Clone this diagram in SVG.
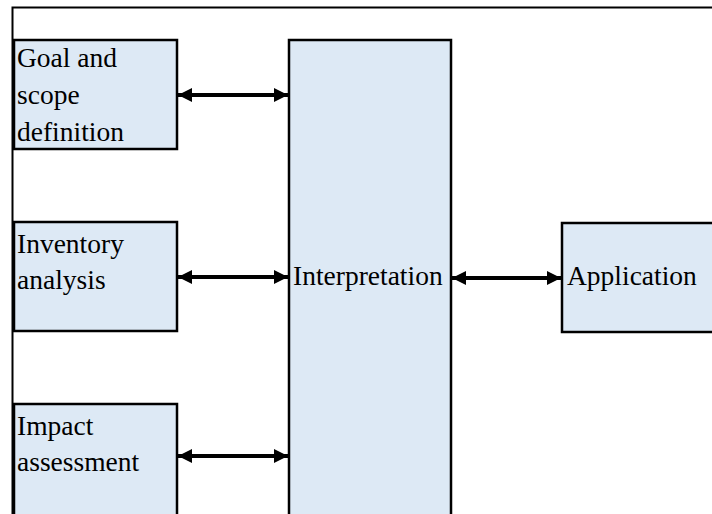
<svg xmlns="http://www.w3.org/2000/svg" width="712" height="514" viewBox="0 0 712 514">
  <style>
    .box { fill: #dde9f5; stroke: #000; stroke-width: 2.5; }
    .lbl { font-family: "Liberation Serif", "Times New Roman", serif; font-size: 27.5px; fill: #000; }
    .link { stroke: #000; stroke-width: 4; fill: none; marker-start: url(#head); marker-end: url(#head); }
  </style>
  <defs>
    <marker id="head" viewBox="0 0 14 14" refX="14" refY="7" markerWidth="14" markerHeight="14" markerUnits="userSpaceOnUse" orient="auto-start-reverse">
      <path d="M0,0 L14,7 L0,14 Z" fill="#000"/>
    </marker>
  </defs>

  <rect width="712" height="514" fill="#fff"/>
  <!-- outer frame (top and left edges) -->
  <path d="M12.5,520 V7.5 H720" fill="none" stroke="#000" stroke-width="2"/>

  <g id="goal">
    <rect class="box" x="14" y="40" width="163" height="109"/>
    <text class="lbl" x="17" y="67">Goal and</text>
    <text class="lbl" x="17" y="104">scope</text>
    <text class="lbl" x="17" y="141">definition</text>
  </g>
  <g id="inventory">
    <rect class="box" x="14" y="222" width="163" height="109"/>
    <text class="lbl" x="17" y="253">Inventory</text>
    <text class="lbl" x="17" y="289">analysis</text>
  </g>
  <g id="impact">
    <rect class="box" x="14" y="404" width="163" height="120"/>
    <text class="lbl" x="17" y="435">Impact</text>
    <text class="lbl" x="17" y="471">assessment</text>
  </g>
  <g id="interpretation">
    <rect class="box" x="289" y="40" width="162" height="484"/>
    <text class="lbl" x="293" y="285">Interpretation</text>
  </g>
  <g id="application">
    <rect class="box" x="562" y="223" width="160" height="109"/>
    <text class="lbl" x="567" y="285">Application</text>
  </g>

  <g id="connectors">
    <line class="link" x1="178" y1="95" x2="288" y2="95"/>
    <line class="link" x1="178" y1="277" x2="288" y2="277"/>
    <line class="link" x1="178" y1="456" x2="288" y2="456"/>
    <line class="link" x1="452" y1="278" x2="561" y2="278"/>
  </g>
</svg>
